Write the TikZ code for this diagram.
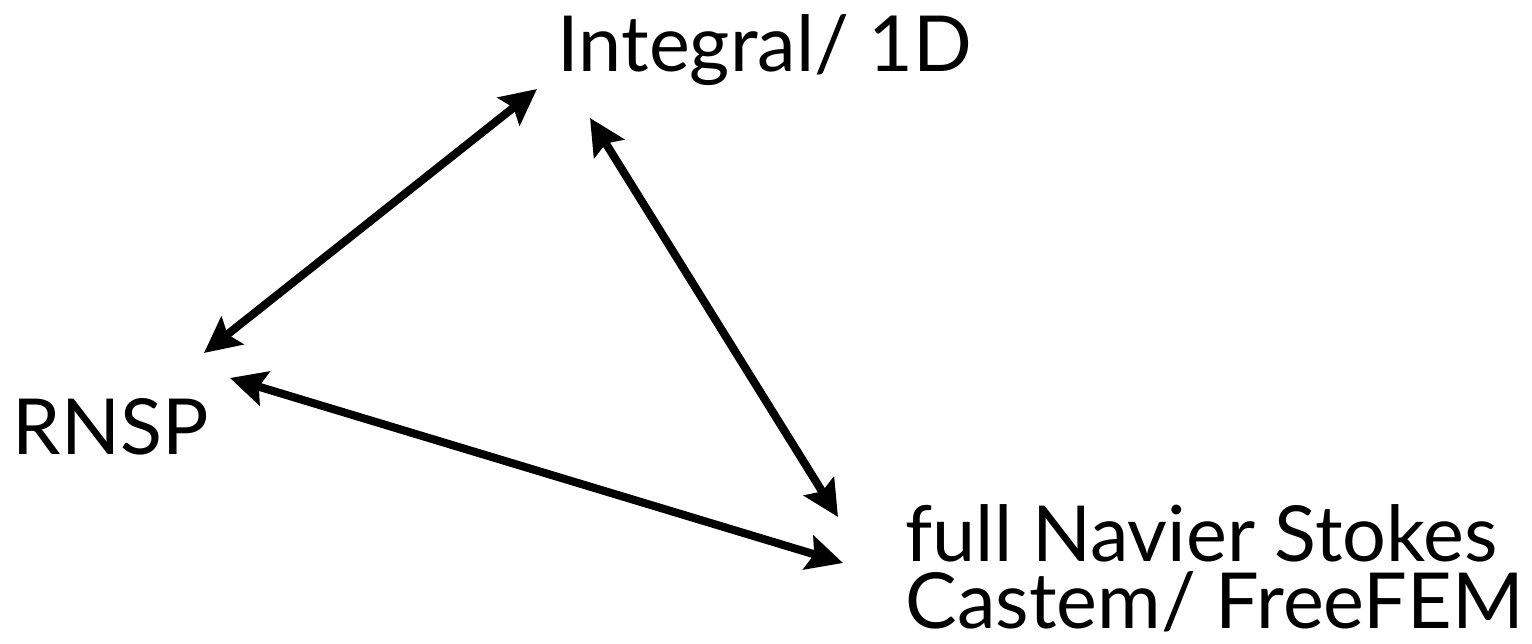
\documentclass[tikz,border=0pt]{standalone}
\usepackage{fontspec}
\setmainfont{Lato}
\usetikzlibrary{arrows.meta}

\begin{document}
\begin{tikzpicture}[
  lbl/.style={inner sep=0pt, font=\fontsize{22}{19}\selectfont},
  link/.style={{Stealth[length=3.6mm, width=3.5mm, inset=0.6mm]}-{Stealth[length=3.6mm, width=3.5mm, inset=0.6mm]}, line width=2.3pt}]
\useasboundingbox (0,0) rectangle (15.32,6.44);
% the three models
\node[lbl, anchor=base west] (integ) at (5.57,5.72) {Integral/ 1D};
\node[lbl, anchor=base west] (rnsp) at (0.12,1.89) {RNSP};
\node[lbl, anchor=north west, align=left] (nse) at (9.05,1.40) {full Navier Stokes\\ Castem/ FreeFEM};
% couplings between them
\draw[link] ([shift={(1.92,1.02)}]rnsp.base west) -- ([shift={(-0.20,-0.17)}]integ.base west);
\draw[link] ([shift={(0.33,-0.46)}]integ.base west) -- ([shift={(-0.67,-0.13)}]nse.north west);
\draw[link] ([shift={(2.18,0.77)}]rnsp.base west) -- ([shift={(-0.62,-0.59)}]nse.north west);
\end{tikzpicture}
\end{document}
